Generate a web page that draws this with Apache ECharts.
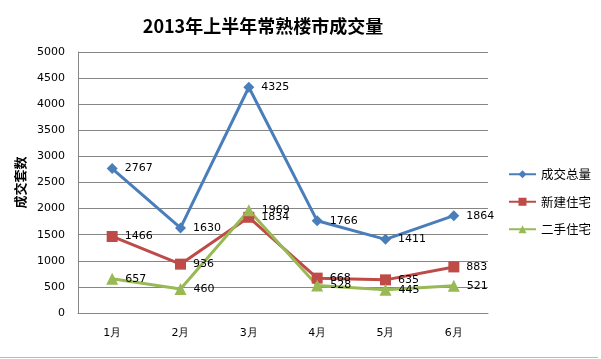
<!DOCTYPE html>
<html>
<head>
<meta charset="utf-8">
<script src="https://cdn.jsdelivr.net/npm/echarts@6/dist/echarts.min.js"></script>
<style>
html,body{margin:0;padding:0;background:#fff;}
#chart{width:601px;height:359px;}
</style>
</head>
<body>
<div id="chart"></div>
<script>
var titleText = '2013年上半年常熟楼市成交量';
var categories = ['1月', '2月', '3月', '4月', '5月', '6月'];
var seriesNames = ['成交总量', '新建住宅', '二手住宅'];
var totalValues = [2767, 1630, 4325, 1766, 1411, 1864];
var newHomeValues = [1466, 936, 1834, 668, 635, 883];
var resaleValues = [657, 460, 1969, 528, 445, 521];
var yAxisName = '成交套数';
var yMin = 0, yMax = 5000, yInterval = 500;

var colors = ['#4A7EBB', '#BE4B48', '#98B954'];
var symbols = ['diamond', 'rect', 'triangle'];
var sizes = [11, 11, 12];
var dataSets = [totalValues, newHomeValues, resaleValues];

var chart = echarts.init(document.getElementById('chart'), null, {renderer: 'canvas'});
var labelFont = 'DejaVu Sans';
var series = dataSets.map(function (vals, i) {
  return {
    name: seriesNames[i],
    type: 'line',
    data: vals,
    symbol: symbols[i],
    symbolSize: sizes[i],
    color: colors[i],
    lineStyle: {width: 3, color: colors[i]},
    itemStyle: {color: colors[i]},
    label: {
      show: true,
      position: 'right',
      distance: 7,
      color: '#000',
      fontSize: 11,
      fontFamily: labelFont
    },
    animation: false
  };
});

chart.setOption({
  backgroundColor: '#fff',
  animation: false,
  color: colors,
  title: {
    text: titleText,
    left: 258,
    textAlign: 'center',
    top: 12,
    textStyle: {fontSize: 18, fontWeight: 'bold', color: '#000', fontFamily: 'Noto Sans CJK SC'}
  },
  legend: {
    orient: 'vertical',
    left: 503,
    top: 163,
    itemWidth: 27,
    itemHeight: 10,
    itemGap: 15,
    data: seriesNames,
    textStyle: {fontSize: 12.5, color: '#000', fontFamily: 'Noto Sans CJK SC'}
  },
  grid: {left: 78, right: 113, top: 52, bottom: 46, containLabel: false},
  xAxis: {
    type: 'category',
    data: categories,
    boundaryGap: true,
    axisLine: {lineStyle: {color: '#868686', width: 1}},
    axisTick: {show: false},
    axisLabel: {color: '#000', fontSize: 11, fontFamily: labelFont, margin: 15}
  },
  yAxis: {
    type: 'value',
    min: yMin,
    max: yMax,
    interval: yInterval,
    name: yAxisName,
    nameLocation: 'middle',
    nameRotate: 90,
    nameGap: 43,
    nameTextStyle: {fontSize: 13, fontWeight: 'bold', color: '#000', fontFamily: 'Noto Sans CJK SC'},
    axisLine: {show: true, lineStyle: {color: '#868686', width: 1}},
    axisTick: {show: false},
    axisLabel: {color: '#000', fontSize: 11, fontFamily: labelFont, margin: 13, formatter: function (v) { return String(v); }},
    splitLine: {lineStyle: {color: '#868686', width: 1}}
  },
  graphic: [{
    type: 'line',
    shape: {x1: 0, y1: 357.5, x2: 598, y2: 357.5},
    style: {stroke: '#b4bcc4', lineWidth: 1},
    silent: true
  }],
  series: series
});
</script>
</body>
</html>
